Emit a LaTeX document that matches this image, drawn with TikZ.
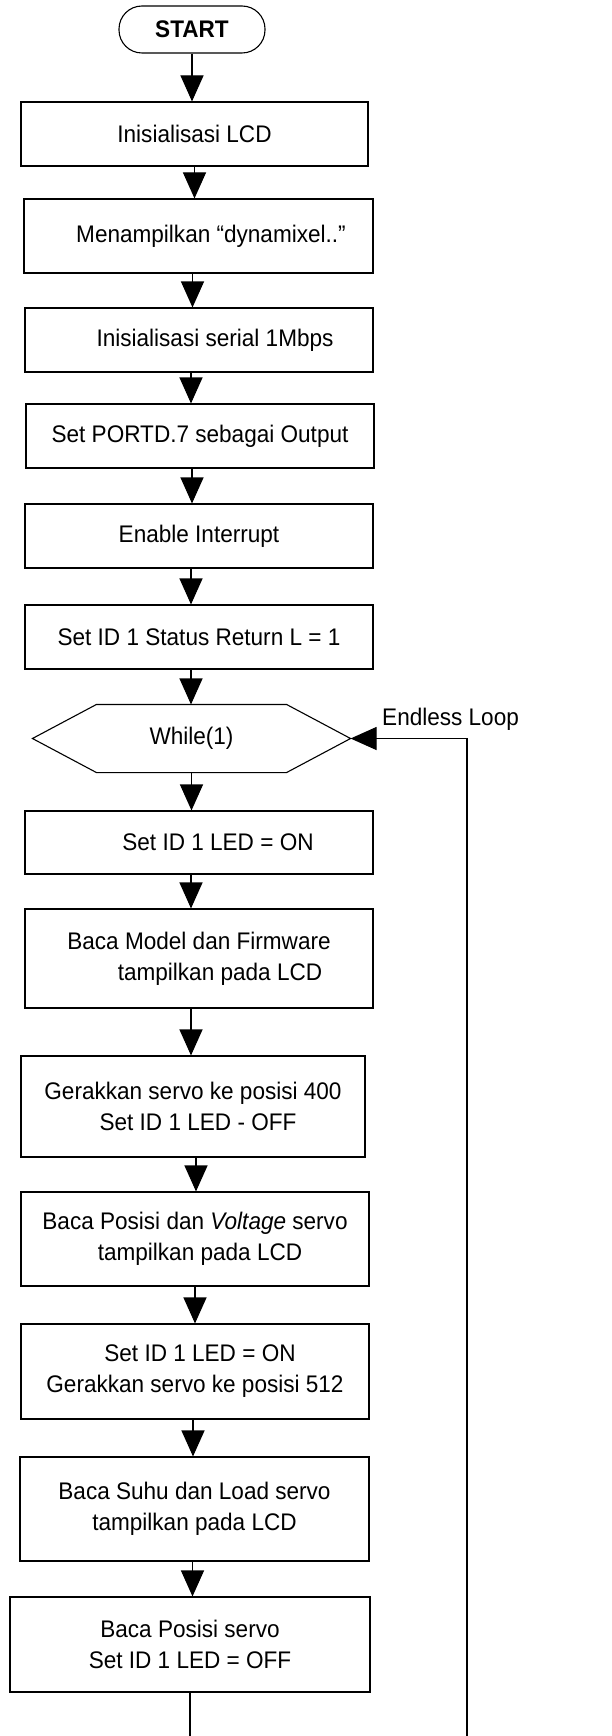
\documentclass[tikz,border=0pt]{standalone}
\usepackage{fontspec}
\setmainfont{Liberation Sans}[FakeStretch=0.94]
\usetikzlibrary{arrows.meta}
\tikzset{
  proses/.style={draw, line width=1.1pt, align=center, inner sep=0pt,
    minimum width=348pt, font=\fontsize{24}{31}\selectfont},
  terminal/.style={proses, rounded corners=23pt},
  teks/.style={font=\fontsize{24}{31}\selectfont, inner sep=0pt},
  alur/.style={line width=1.1pt, -{Triangle[width=23pt,length=26pt]}},
  garis/.style={line width=1.1pt}
}
\begin{document}
\begin{tikzpicture}[x=1pt,y=-1pt]
    \useasboundingbox (0,0) rectangle (612,1736);

    % Mulai
    \node[terminal, minimum width=146pt, minimum height=47pt] (start) at (192,29.5) {\textbf{START}};

    % Inisialisasi
    \node[proses, minimum width=347pt, minimum height=64pt] (lcd) at (194.5,134) {Inisialisasi LCD};
    \node[proses, minimum width=349pt, minimum height=74pt] (tampil) at (198.5,236) {\hspace*{25pt}Menampilkan “dynamixel..”};
    \node[proses, minimum height=64pt] (serial) at (199,340) {\hspace*{32pt}Inisialisasi serial 1Mbps};
    \node[proses, minimum height=64pt] (portd) at (200,436) {Set PORTD.7 sebagai Output};
    \node[proses, minimum height=64pt] (interupsi) at (199,536) {Enable Interrupt};
    \node[proses, minimum height=64pt] (status) at (199,637) {Set ID 1 Status Return L = 1};

    % Perulangan
    \node[proses, draw=none, minimum width=317pt, minimum height=67pt] (while) at (191.5,738.5) {While(1)};
    \draw[garis] (while.west) -- ([xshift=64pt]while.north west) -- ([xshift=-64pt]while.north east)
        -- (while.east) -- ([xshift=-64pt]while.south east) -- ([xshift=64pt]while.south west) -- cycle;
    \node[teks, anchor=base west] (loop) at (382,725) {Endless Loop};

    % Isi loop
    \node[proses, minimum height=63pt] (ledon) at (199,842.5) {\hspace*{38pt}Set ID 1 LED = ON};
    \node[proses, minimum height=99pt] (model) at (199,958.5) {Baca Model dan Firmware\\\hspace*{42pt}tampilkan pada LCD};
    \node[proses, minimum width=344pt, minimum height=101pt] (gerak400) at (193,1106.5) {Gerakkan servo ke posisi 400\\\hspace*{10pt}Set ID 1 LED - OFF};
    \node[proses, minimum height=94pt] (voltage) at (195,1239) {Baca Posisi dan \textit{Voltage} servo\\\hspace*{10pt}tampilkan pada LCD};
    \node[proses, minimum height=95pt] (gerak512) at (195,1371.5) {\hspace*{10pt}Set ID 1 LED = ON\\Gerakkan servo ke posisi 512};
    \node[proses, minimum width=349pt, minimum height=104pt] (suhu) at (194.5,1509) {Baca Suhu dan Load servo\\tampilkan pada LCD};
    \node[proses, minimum width=360pt, minimum height=95pt] (posisi) at (190,1644.5) {Baca Posisi servo\\Set ID 1 LED = OFF};

    % Panah
    \draw[alur] (start.south) -- (start.south |- lcd.north);
    \draw[alur] (lcd.south) -- (lcd.south |- tampil.north);
    \draw[alur] ([xshift=-6pt]tampil.south) -- ([xshift=-6pt]tampil.south |- serial.north);
    \draw[alur] ([xshift=-8pt]serial.south) -- ([xshift=-8pt]serial.south |- portd.north);
    \draw[alur] ([xshift=-8pt]portd.south) -- ([xshift=-8pt]portd.south |- interupsi.north);
    \draw[alur] ([xshift=-8pt]interupsi.south) -- ([xshift=-8pt]interupsi.south |- status.north);
    \draw[alur] ([xshift=-8pt]status.south) -- ([xshift=-8pt]status.south |- while.north);
    \draw[alur] (while.south) -- (while.south |- ledon.north);
    \draw[alur] ([xshift=-8pt]ledon.south) -- ([xshift=-8pt]ledon.south |- model.north);
    \draw[alur] ([xshift=-8pt]model.south) -- ([xshift=-8pt]model.south |- gerak400.north);
    \draw[alur] ([xshift=3pt]gerak400.south) -- ([xshift=3pt]gerak400.south |- voltage.north);
    \draw[alur] (voltage.south) -- (voltage.south |- gerak512.north);
    \draw[alur] ([xshift=-2pt]gerak512.south) -- ([xshift=-2pt]gerak512.south |- suhu.north);
    \draw[alur] ([xshift=-2pt]suhu.south) -- ([xshift=-2pt]suhu.south |- posisi.north);

    % Kembali ke While(1)
    \coordinate (ujung1) at (190,1736);
    \coordinate (ujung2) at (467,1736);
    \draw[garis] (posisi.south) -- (posisi.south |- ujung1);
    \draw[alur] (ujung2) |- (while.east);
\end{tikzpicture}
\end{document}
